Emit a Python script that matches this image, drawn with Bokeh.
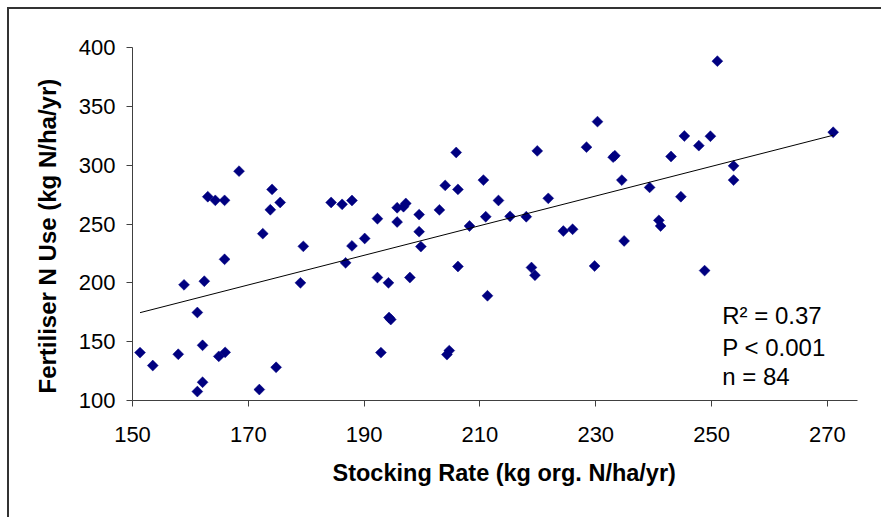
import numpy as np
from bokeh.plotting import figure
from bokeh.models import Range1d, FixedTicker, Label, ColumnDataSource, Title
from bokeh.embed import file_html
from bokeh.resources import INLINE

# Stocking rate (kg org. N/ha/yr)
stocking_rate = [
    151.3, 153.5, 157.9, 158.9, 161.2, 161.2, 162.1, 162.1, 162.4, 163.0,
    164.3, 164.9, 166.0, 165.9, 165.9, 168.4, 171.9, 172.5, 173.8, 174.1,
    174.8, 175.5, 179.0, 179.5, 184.3, 186.2, 186.8, 187.9, 187.9, 190.1,
    192.3, 192.3, 192.9, 194.2, 194.3, 194.6, 195.7, 195.7, 196.8, 197.2,
    197.9, 199.5, 199.5, 199.8, 203.0, 204.0, 204.3, 204.7, 205.9, 206.2,
    206.2, 208.2, 210.6, 211.0, 211.3, 213.2, 215.2, 218.0, 218.9, 219.5,
    219.9, 221.8, 224.4, 226.0, 228.4, 229.8, 230.3, 233.0, 233.3, 234.5,
    234.9, 239.3, 240.9, 241.2, 243.0, 244.7, 245.3, 247.8, 248.8, 249.8,
    251.0, 253.8, 253.8, 271.0,
]
# Fertiliser N use (kg N/ha/yr)
fertiliser_n = [
    140.7, 129.7, 139.3, 198.3, 174.8, 107.6, 146.9, 115.5, 201.4, 273.2,
    270.1, 137.5, 140.9, 220.0, 270.1, 294.9, 109.3, 241.8, 262.1, 279.4,
    128.2, 268.3, 200.0, 231.0, 268.3, 266.7, 217.0, 231.4, 270.0, 237.7,
    254.5, 204.5, 140.7, 200.0, 170.5, 168.8, 263.8, 251.7, 264.7, 267.5,
    204.5, 258.0, 243.5, 230.8, 262.0, 282.8, 139.0, 142.4, 310.8, 279.4,
    213.9, 248.3, 287.3, 256.2, 189.0, 270.0, 256.5, 256.2, 213.0, 206.5,
    312.1, 271.8, 244.0, 245.5, 315.3, 214.3, 337.0, 306.8, 308.0, 287.3,
    235.6, 281.1, 253.1, 248.3, 307.4, 273.2, 324.8, 316.6, 210.4, 324.6,
    388.4, 299.4, 287.3, 328.0,
]
x_ticks = [150, 170, 190, 210, 230, 250, 270]
y_ticks = [100, 150, 200, 250, 300, 350, 400]
x_title = "Stocking Rate (kg org. N/ha/yr)"
y_title = "Fertiliser N Use (kg N/ha/yr)"
stats_lines = ["R\u00b2 = 0.37", "P < 0.001", "n = 84"]

FONT = "Liberation Sans"

p = figure(
    frame_width=725, frame_height=353,
    min_border_left=124, min_border_top=39, min_border_right=24, min_border_bottom=117,
    x_range=Range1d(150, 275.2), y_range=Range1d(100, 400),
    output_backend="svg", toolbar_location=None,
    background_fill_color="white", border_fill_color="white",
)
p.styles = {"margin-left": "8px", "margin-top": "8px"}
p.outline_line_color = None
p.xgrid.visible = False
p.ygrid.visible = False

for ax in (p.xaxis[0], p.yaxis[0]):
    ax.axis_line_color = "#404040"
    ax.major_tick_line_color = "#404040"
    ax.major_tick_out = 6
    ax.major_tick_in = 0
    ax.minor_tick_line_color = None
    ax.major_label_text_font = FONT
    ax.major_label_text_font_size = "22px"
    ax.major_label_text_color = "black"

p.xaxis.ticker = FixedTicker(ticks=x_ticks)
p.yaxis.ticker = FixedTicker(ticks=y_ticks)
p.xaxis.major_label_standoff = 20
p.yaxis.major_label_standoff = 11

p.add_layout(Title(text=x_title, align="left", offset=200, standoff=26,
                   text_font=FONT, text_font_size="23.5px", text_font_style="bold",
                   text_color="black"), "below")
p.add_layout(Title(text=y_title, align="left", offset=7, standoff=30,
                   text_font=FONT, text_font_size="24px", text_font_style="bold",
                   text_color="black"), "left")

src = ColumnDataSource(dict(x=stocking_rate, y=fertiliser_n))
p.scatter("x", "y", source=src, marker="square", size=7.7, angle=np.pi / 4,
          fill_color="#000080", line_color="#000080", line_width=0.5)

xs = np.array(stocking_rate)
ys = np.array(fertiliser_n)
slope, intercept = np.polyfit(xs, ys, 1)
lx = np.array([xs.min(), xs.max()])
p.line(lx, intercept + slope * lx, line_color="black", line_width=1)

label_x = 251.85
for txt, yb in zip(stats_lines, [172.6, 145.2, 120.3]):
    p.add_layout(Label(x=label_x, y=yb, text=txt, text_font=FONT,
                       text_font_size="24px", text_color="black",
                       text_baseline="alphabetic", text_align="left"))

# chart-area border: only its left and top edges fall inside the window
border_css = """<style>
body::before { content: ""; position: fixed; left: 7px; top: 7px; width: 2px;
               height: 510px; background: #333333; z-index: 1000; }
body::after { content: ""; position: fixed; left: 7px; top: 7px; width: 874px;
              height: 2px; background: #333333; z-index: 1000; }
</style></head>"""
html = file_html(p, INLINE)
html = html.replace("</head>", border_css, 1)
open("out.html", "w").write(html)
